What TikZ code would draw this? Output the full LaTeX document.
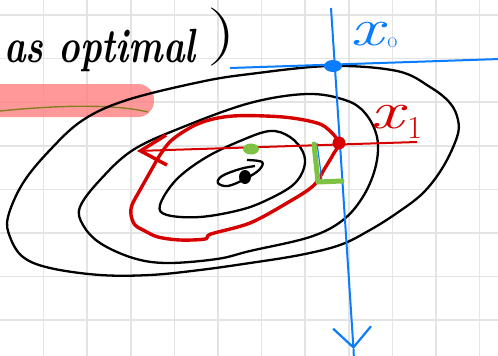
\documentclass[tikz,border=0pt]{standalone}
\usetikzlibrary{arrows.meta}
\definecolor{penblue}{RGB}{10,125,255}
\definecolor{penred}{RGB}{215,0,0}
\definecolor{pengreen}{RGB}{125,194,66}
\definecolor{penolive}{RGB}{135,125,35}
\definecolor{hlpink}{RGB}{255,120,120}
\definecolor{gridgray}{RGB}{228,228,228}

\begin{document}
\begin{tikzpicture}[
    x=1pt, y=-1pt,
    gridline/.style={gridgray, line width=1.6pt},
    contour/.style={black, line width=2.3pt, line join=round, smooth cycle, tension=0.6},
    redloop/.style={penred, line width=3.4pt, line join=round, smooth cycle, tension=0.55},
    redarr/.style={penred, line width=2pt, -{Straight Barb[length=26pt, width=30pt, line width=3.5pt]}},
    bluearr/.style={penblue, line width=2pt, -{Straight Barb[length=20pt, width=38pt, line width=2.2pt]}},
    blueline/.style={penblue, line width=2pt},
    label/.style={inner sep=0pt}
]
\useasboundingbox (0,0) rectangle (498,356);
\clip (0,0) rectangle (498,356);
\fill[white] (0,0) rectangle (498,356);

% grid paper
\foreach \gx in {1,...,11}
    \draw[gridline] (43.6*\gx,0) -- (43.6*\gx,356);
\foreach \gy in {0,...,7}
    \draw[gridline] (0,15+43.6*\gy) -- (498,15+43.6*\gy);

% highlighter and underline
\fill[hlpink, fill opacity=0.75, rounded corners=16pt] (-20,84) rectangle (154,117);
\draw[penolive, line width=1.4pt] (0,111) .. controls (50,106) and (110,103) .. (148,112);

% handwritten text
\node[label, anchor=base west, font=\fontsize{48}{52}\selectfont\bfseries\itshape] (title) at (4,62) {\scalebox{0.76}[1]{as optimal}};
\node[label, font=\fontsize{58}{62}\selectfont] (paren) at (222,37) {\scalebox{1.4}[1]{)}};

% level sets
\draw[contour] plot coordinates {(8,217) (23,183) (50,150) (83,120) (127,100) (200,82) (250,74) (330,66) (397,71) (430,87) (450,103) (458,120) (457,137) (443,167) (423,193) (397,213) (370,230) (340,245) (300,255) (250,263) (200,270) (150,275) (100,275) (50,268) (23,257) (10,237)};
\draw[contour] plot coordinates {(80,207) (100,180) (133,150) (183,127) (250,103) (307,94) (345,100) (365,113) (377,137) (376,165) (364,195) (343,220) (310,237) (250,251) (217,259) (167,263) (133,258) (100,243) (83,225)};
\draw[contour] plot coordinates {(160,205) (176,180) (205,158) (240,141) (270,131) (290,137) (303,152) (304,168) (293,185) (267,200) (240,210) (200,217) (167,215)};
\draw[black, line width=2.3pt, smooth, tension=0.6] plot coordinates {(247,160) (262,162) (259,170) (245,179) (228,186) (218,183) (222,176) (240,169) (255,166)};
\fill[black] (245,177) ellipse[x radius=6pt, y radius=7pt];

% red step
\coordinate (x1) at (339,143);
\coordinate (rend) at (417,142);
\coordinate (rtip) at (137,151);
\draw[redloop] plot coordinates {(339,143) (330,131) (317,123) (283,117) (233,116) (200,123) (173,139) (160,155) (153,167) (140,190) (132,205) (131,215) (135,225) (145,231) (158,237) (180,240) (205,239) (211,234) (250,223) (287,203) (313,186) (325,168) (334,153)};
\draw[redarr] (rend) -- (rtip);

% blue axes through x0
\coordinate (x0) at (333,66);
\coordinate (hstart) at (230,68);
\coordinate (hend) at (500,59);
\coordinate (vtop) at (331,8);
\coordinate (vtip) at (353.5,349);
\coordinate (vend) at (354,360);
\draw[blueline] (hstart) -- (hend);
\draw[bluearr] (vtop) -- (vtip);
\draw[blueline] (vtip) -- (vend);

% right angle
\draw[penblue, line width=1.2pt] (317,143) -- (322,181) -- (342,181);
\draw[pengreen, line width=5pt, line cap=round, line join=round] (314,144) -- (318,182) -- (342,181);

% points
\fill[penblue] (x0) ellipse[x radius=9pt, y radius=6pt];
\fill[penred] (x1) circle[radius=6.5pt];
\fill[pengreen] (251,149) ellipse[x radius=8pt, y radius=5.5pt];

% labels
\node[label, anchor=west, text=penblue, font=\fontsize{46}{50}\selectfont] (x0lab) at (350,35) {\scalebox{1.6}[1.15]{\textit{x}}\raisebox{-2pt}{\fontsize{22}{22}\selectfont o}};
\node[label, anchor=west, text=penred, font=\fontsize{46}{50}\selectfont] (x1lab) at (370,122) {\scalebox{1.6}[1.15]{\textit{x}}\raisebox{-10pt}{\fontsize{32}{32}\selectfont 1}};
\end{tikzpicture}
\end{document}
